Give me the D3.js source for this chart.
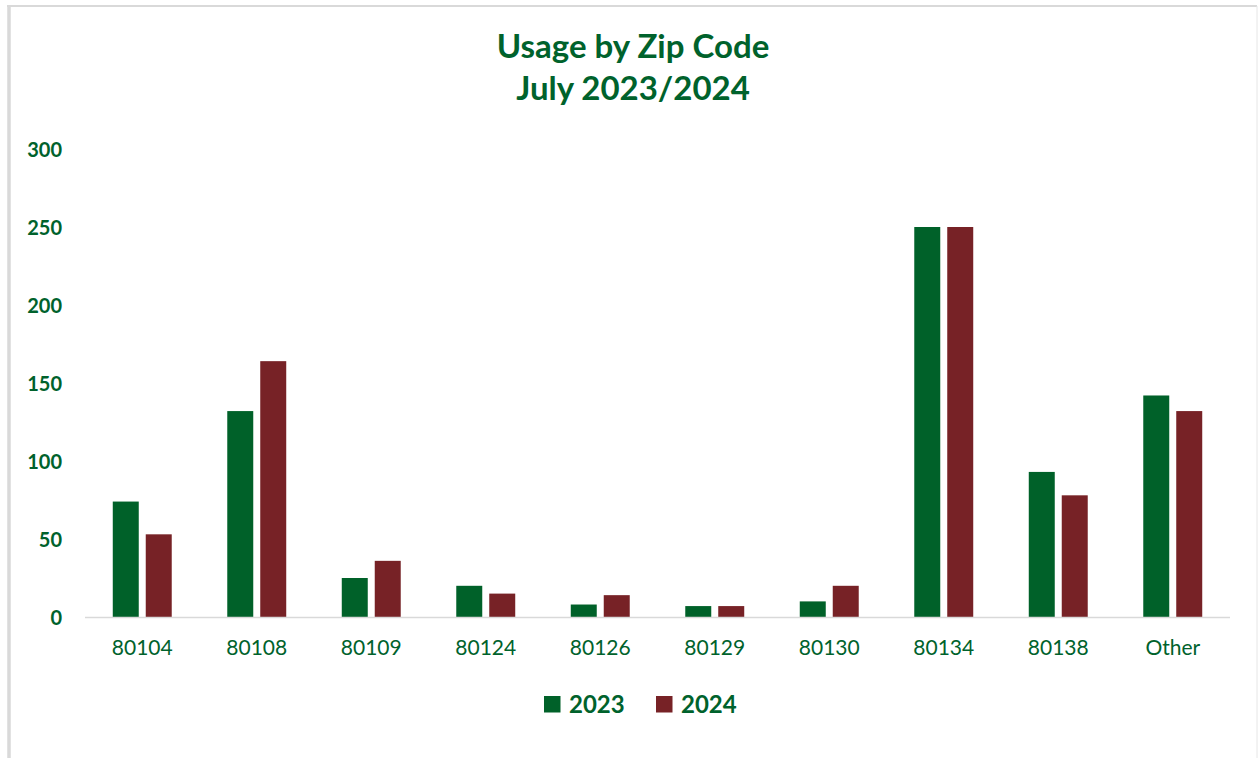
<!DOCTYPE html>
<html>
<head>
<meta charset="utf-8">
<script src="https://cdn.jsdelivr.net/npm/d3@7"></script>
<style>
  html, body { margin: 0; padding: 0; background: #ffffff; }
  svg { display: block; }
</style>
</head>
<body>
<div id="chart"></div>
<script>
const categories = ["80104", "80108", "80109", "80124", "80126", "80129", "80130", "80134", "80138", "Other"];
const seriesNames = ["2023", "2024"];
const values2023 = [74, 132, 25, 20, 8, 7, 10, 250, 93, 142];
const values2024 = [53, 164, 36, 15, 14, 7, 20, 250, 78, 132];
const yTicks = [0, 50, 100, 150, 200, 250, 300];
const titleLines = ["Usage by Zip Code", "July 2023/2024"];

const W = 1258, H = 758;
const textGreen = "#00622C";
const colors = { "2023": "#006129", "2024": "#772226" };
const font = "Lato, 'Open Sans', sans-serif";

const svg = d3.select("#chart").append("svg").attr("width", W).attr("height", H);

// chart frame
svg.append("line").attr("x1", 9).attr("x2", 9).attr("y1", 5).attr("y2", H)
  .attr("stroke", "#d9d9d9").attr("stroke-width", 3.5);
svg.append("line").attr("x1", 7).attr("x2", 1257).attr("y1", 6).attr("y2", 6)
  .attr("stroke", "#d9d9d9").attr("stroke-width", 2);
svg.append("line").attr("x1", 1257).attr("x2", 1257).attr("y1", 6).attr("y2", H)
  .attr("stroke", "#e6e6e6").attr("stroke-width", 1);

// title
svg.append("g").selectAll("text").data(titleLines).join("text")
  .attr("x", 633).attr("y", (d, i) => 58 + i * 42)
  .attr("text-anchor", "middle")
  .attr("font-family", font).attr("font-weight", 700).attr("font-size", 33)
  .attr("fill", textGreen).text(d => d);

const x0 = d3.scaleBand().domain(categories).range([85, 1230]).paddingInner(0.485).paddingOuter(0.2425);
const x1 = d3.scaleBand().domain(seriesNames).range([0, x0.bandwidth()]).paddingInner(0.212);
const y = d3.scaleLinear().domain([0, 300]).range([617, 149]);

// y axis labels
const yAxis = d3.axisLeft(y).tickValues(yTicks).tickSize(0).tickPadding(0);
const yg = svg.append("g").attr("transform", "translate(62,0)").call(yAxis);
yg.select(".domain").remove();
yg.selectAll("text").attr("font-family", font).attr("font-weight", 700)
  .attr("font-size", 20).attr("fill", textGreen).attr("dy", "0.36em");

// bars
const data = categories.map((c, i) => ({ cat: c, vals: [
  { s: "2023", v: values2023[i] }, { s: "2024", v: values2024[i] } ] }));
const groups = svg.append("g").selectAll("g").data(data).join("g")
  .attr("transform", d => `translate(${x0(d.cat)},0)`);
groups.selectAll("rect").data(d => d.vals).join("rect")
  .attr("x", d => x1(d.s)).attr("width", x1.bandwidth())
  .attr("y", d => y(d.v)).attr("height", d => y(0) - y(d.v))
  .attr("fill", d => colors[d.s]);

// x axis
const xAxis = d3.axisBottom(x0).tickSize(0).tickPadding(0);
const xg = svg.append("g").attr("transform", `translate(0,${y(0)})`).call(xAxis);
xg.select(".domain").attr("stroke", "#d9d9d9").attr("stroke-width", 1.5)
  .attr("d", "M85,0.5H1230");
xg.selectAll("text").attr("font-family", font).attr("font-weight", 400)
  .attr("font-size", 21).attr("fill", textGreen).attr("y", 38).attr("dy", 0);

// legend
const legendItems = [ { s: "2023", x: 544 }, { s: "2024", x: 656 } ];
const lg = svg.append("g").selectAll("g").data(legendItems).join("g")
  .attr("transform", d => `translate(${d.x},696)`);
lg.append("rect").attr("width", 16.5).attr("height", 16.5).attr("fill", d => colors[d.s]);
lg.append("text").attr("x", 25).attr("y", 16.5)
  .attr("font-family", font).attr("font-weight", 700).attr("font-size", 24)
  .attr("fill", textGreen).text(d => d.s);
</script>
</body>
</html>
